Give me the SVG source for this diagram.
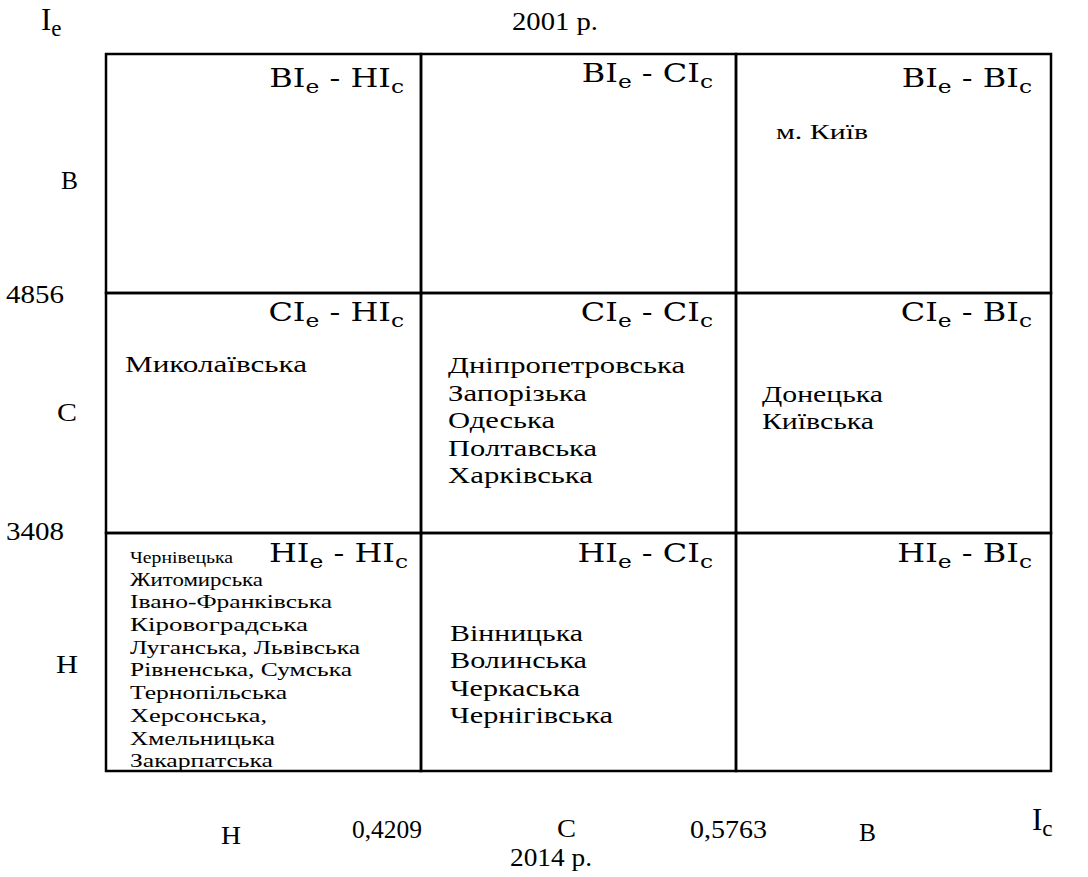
<svg xmlns="http://www.w3.org/2000/svg" width="1088" height="877" viewBox="0 0 1088 877">
<defs>
<style>
.cell{fill:none;stroke:#000;stroke-width:2.5}
.lbl{font-family:"DejaVu Serif","Liberation Serif",serif;font-size:26px;fill:#000;white-space:pre}
.sub{font-size:19px}
.ax{font-family:"Liberation Serif","Times New Roman",serif;font-size:25px;fill:#000;white-space:pre}
.big{font-size:31px}
.axsub{font-size:23px}
.num{font-size:26px}
.nm{font-family:"Liberation Serif","Times New Roman",serif;font-size:24px;fill:#000}
.sm{font-family:"Liberation Serif","Times New Roman",serif;font-size:19px;fill:#000}
</style>
</defs>
<rect width="1088" height="877" fill="#fff"/>

<g id="connectors"></g>

<g id="cell-BH">
<rect class="cell" x="106" y="54" width="315" height="239"/>
<g transform="translate(404,87) scale(1.23,1)"><text class="lbl" text-anchor="end">BI<tspan class="sub" dy="6">e</tspan><tspan dy="-6"> - HI</tspan><tspan class="sub" dy="6">c</tspan></text></g>
</g>
<g id="cell-BC">
<rect class="cell" x="421" y="54" width="315" height="239"/>
<g transform="translate(713,82) scale(1.23,1)"><text class="lbl" text-anchor="end">BI<tspan class="sub" dy="6">e</tspan><tspan dy="-6"> - CI</tspan><tspan class="sub" dy="6">c</tspan></text></g>
</g>
<g id="cell-BB">
<rect class="cell" x="736" y="54" width="315" height="239"/>
<g transform="translate(1032,87) scale(1.23,1)"><text class="lbl" text-anchor="end">BI<tspan class="sub" dy="6">e</tspan><tspan dy="-6"> - BI</tspan><tspan class="sub" dy="6">c</tspan></text></g>
<text class="nm" x="776" y="139" style="font-size:22px" textLength="92" lengthAdjust="spacingAndGlyphs">м. Київ</text>
</g>

<g id="cell-CH">
<rect class="cell" x="106" y="293" width="315" height="240"/>
<g transform="translate(404,321) scale(1.23,1)"><text class="lbl" text-anchor="end">CI<tspan class="sub" dy="6">e</tspan><tspan dy="-6"> - HI</tspan><tspan class="sub" dy="6">c</tspan></text></g>
<text class="nm" x="125" y="372" textLength="182" lengthAdjust="spacingAndGlyphs">Миколаївська</text>
</g>
<g id="cell-CC">
<rect class="cell" x="421" y="293" width="315" height="240"/>
<g transform="translate(713,321) scale(1.23,1)"><text class="lbl" text-anchor="end">CI<tspan class="sub" dy="6">e</tspan><tspan dy="-6"> - CI</tspan><tspan class="sub" dy="6">c</tspan></text></g>
<text class="nm" x="448" y="373" textLength="237" lengthAdjust="spacingAndGlyphs">Дніпропетровська</text>
<text class="nm" x="448" y="400.5" textLength="139" lengthAdjust="spacingAndGlyphs">Запорізька</text>
<text class="nm" x="448" y="428" textLength="107" lengthAdjust="spacingAndGlyphs">Одеська</text>
<text class="nm" x="448" y="455.5" textLength="149" lengthAdjust="spacingAndGlyphs">Полтавська</text>
<text class="nm" x="448" y="483" textLength="145" lengthAdjust="spacingAndGlyphs">Харківська</text>
</g>
<g id="cell-CB">
<rect class="cell" x="736" y="293" width="315" height="240"/>
<g transform="translate(1032,321) scale(1.23,1)"><text class="lbl" text-anchor="end">CI<tspan class="sub" dy="6">e</tspan><tspan dy="-6"> - BI</tspan><tspan class="sub" dy="6">c</tspan></text></g>
<text class="nm" x="762" y="402" textLength="121" lengthAdjust="spacingAndGlyphs">Донецька</text>
<text class="nm" x="762" y="429" textLength="112" lengthAdjust="spacingAndGlyphs">Київська</text>
</g>

<g id="cell-HH">
<rect class="cell" x="106" y="533" width="315" height="238"/>
<g transform="translate(408,562) scale(1.23,1)"><text class="lbl" text-anchor="end">HI<tspan class="sub" dy="6">e</tspan><tspan dy="-6"> - HI</tspan><tspan class="sub" dy="6">c</tspan></text></g>
<text class="sm" x="130" y="563" style="font-size:17px" textLength="103" lengthAdjust="spacingAndGlyphs">Чернівецька</text>
<text class="sm" x="130" y="586" textLength="133" lengthAdjust="spacingAndGlyphs">Житомирська</text>
<text class="sm" x="130" y="608" textLength="202" lengthAdjust="spacingAndGlyphs">Івано-Франківська</text>
<text class="sm" x="130" y="631" textLength="178" lengthAdjust="spacingAndGlyphs">Кіровоградська</text>
<text class="sm" x="130" y="654" textLength="230" lengthAdjust="spacingAndGlyphs">Луганська, Львівська</text>
<text class="sm" x="130" y="676" textLength="222" lengthAdjust="spacingAndGlyphs">Рівненська, Сумська</text>
<text class="sm" x="130" y="699" textLength="157" lengthAdjust="spacingAndGlyphs">Тернопільська</text>
<text class="sm" x="130" y="722" textLength="137" lengthAdjust="spacingAndGlyphs">Херсонська,</text>
<text class="sm" x="130" y="745" textLength="145" lengthAdjust="spacingAndGlyphs">Хмельницька</text>
<text class="sm" x="130" y="767" textLength="143" lengthAdjust="spacingAndGlyphs">Закарпатська</text>
</g>
<g id="cell-HC">
<rect class="cell" x="421" y="533" width="315" height="238"/>
<g transform="translate(713,562) scale(1.23,1)"><text class="lbl" text-anchor="end">HI<tspan class="sub" dy="6">e</tspan><tspan dy="-6"> - CI</tspan><tspan class="sub" dy="6">c</tspan></text></g>
<text class="nm" x="450" y="641" textLength="133" lengthAdjust="spacingAndGlyphs">Вінницька</text>
<text class="nm" x="450" y="668" textLength="137" lengthAdjust="spacingAndGlyphs">Волинська</text>
<text class="nm" x="450" y="696" textLength="130" lengthAdjust="spacingAndGlyphs">Черкаська</text>
<text class="nm" x="450" y="723" textLength="163" lengthAdjust="spacingAndGlyphs">Чернігівська</text>
</g>
<g id="cell-HB">
<rect class="cell" x="736" y="533" width="315" height="238"/>
<g transform="translate(1032,562) scale(1.23,1)"><text class="lbl" text-anchor="end">HI<tspan class="sub" dy="6">e</tspan><tspan dy="-6"> - BI</tspan><tspan class="sub" dy="6">c</tspan></text></g>
</g>

<g id="axes">
<text class="ax big" x="41" y="30">I<tspan class="axsub" dy="6">e</tspan></text>
<text class="ax" x="512" y="30" textLength="86" lengthAdjust="spacingAndGlyphs">2001 р.</text>
<text class="ax" x="61" y="189" textLength="17" lengthAdjust="spacingAndGlyphs">В</text>
<text class="ax num" x="6" y="303" textLength="58" lengthAdjust="spacingAndGlyphs">4856</text>
<text class="ax" x="57" y="421" textLength="20" lengthAdjust="spacingAndGlyphs">С</text>
<text class="ax num" x="6" y="540" textLength="58" lengthAdjust="spacingAndGlyphs">3408</text>
<text class="ax" x="56" y="673" textLength="22" lengthAdjust="spacingAndGlyphs">Н</text>
<text class="ax" x="221" y="844" textLength="20" lengthAdjust="spacingAndGlyphs">Н</text>
<text class="ax num" x="352" y="838" textLength="70" lengthAdjust="spacingAndGlyphs">0,4209</text>
<text class="ax" x="557" y="837" textLength="19" lengthAdjust="spacingAndGlyphs">С</text>
<text class="ax num" x="690" y="838" textLength="77" lengthAdjust="spacingAndGlyphs">0,5763</text>
<text class="ax" x="859" y="841" textLength="17" lengthAdjust="spacingAndGlyphs">В</text>
<text class="ax big" x="1032" y="830">I<tspan class="axsub" dy="6">c</tspan></text>
<text class="ax" x="510" y="866" textLength="82" lengthAdjust="spacingAndGlyphs">2014 р.</text>
</g>
</svg>
